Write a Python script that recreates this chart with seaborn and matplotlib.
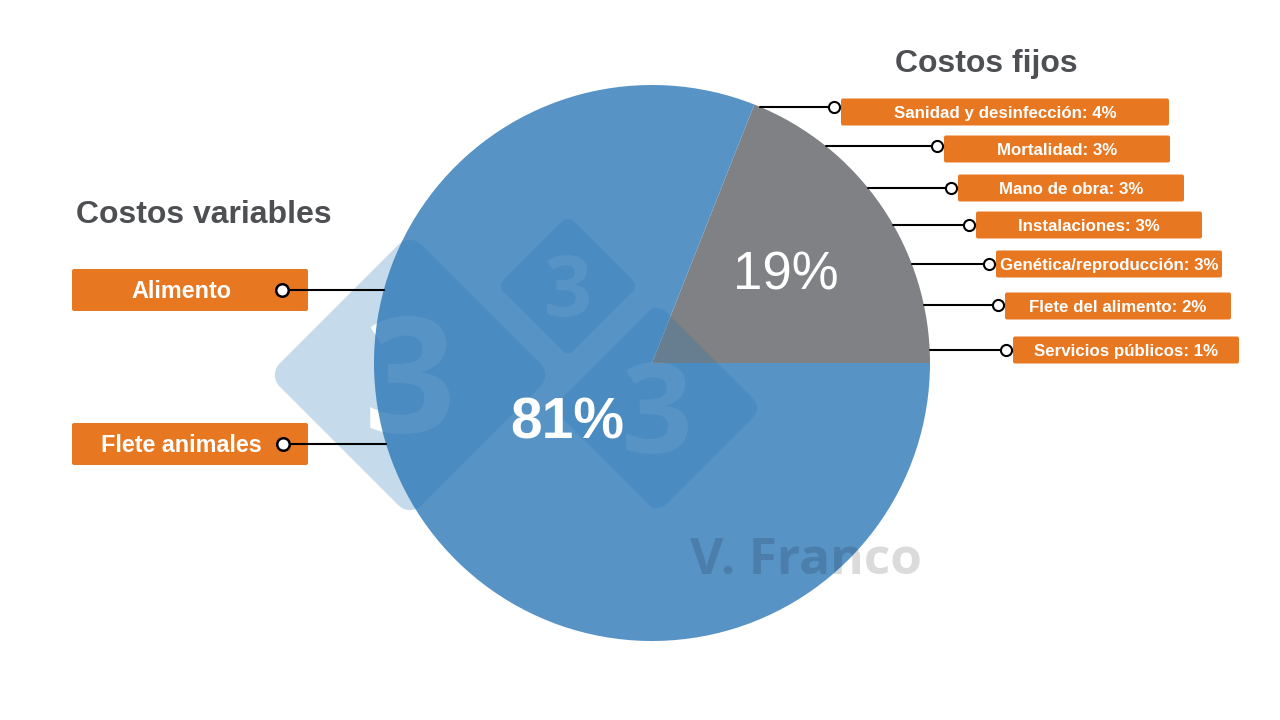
import numpy as np
import matplotlib
matplotlib.use("Agg")
import matplotlib.pyplot as plt
from matplotlib.patches import FancyBboxPatch, PathPatch
from matplotlib.path import Path
from matplotlib.textpath import TextPath
from matplotlib.font_manager import FontProperties
import seaborn as sns

# --- data ---
group_names = ["Costos fijos", "Costos variables"]
group_share = [19, 81]
fixed_items = ["Sanidad y desinfección", "Mortalidad", "Mano de obra", "Instalaciones",
               "Genética/reproducción", "Flete del alimento", "Servicios públicos"]
fixed_share = [4, 3, 3, 3, 3, 2, 1]
variable_items = ["Alimento", "Flete animales"]

# --- layout (pixels on the 1280x720 canvas, y pointing down) ---
CX, CY, R = 652, 363, 278
fixed_line_y = [107, 146, 188, 225, 264, 305, 350]
fixed_box_y = [112, 149, 188, 225, 264, 306, 350]
fixed_dot_x = [834, 937, 951, 969, 989, 998, 1006]
fixed_box_w = [328, 226, 226, 226, 226, 226, 226]
var_y = [290, 444]
var_dot_x = [282, 283]
pct_dist = [0.58, 0.37]

BLUE = "#5893c6"
GREY = "#808184"
ORANGE = "#e87722"
TITLE = "#4d4f53"

sns.set_theme(style="white")
plt.rcParams["font.family"] = ["Liberation Sans", "DejaVu Sans"]

fig = plt.figure(figsize=(12.8, 7.2), dpi=100)
ax = fig.add_axes([0, 0, 1, 1])

# grey (fixed) wedge starts at 3 o'clock and runs up, blue fills the rest
wedges, _ = ax.pie(group_share, colors=[GREY, BLUE], startangle=0,
                   counterclock=False, center=(CX, CY), radius=R,
                   wedgeprops=dict(linewidth=0))
ax.set_xlim(0, 1280)
ax.set_ylim(720, 0)
ax.set_aspect("equal")
ax.axis("off")


# watermark: rounded diamonds with a "3" cut out
def signed_area(p):
    return 0.5 * np.sum(p[:, 0] * np.roll(p[:, 1], -1) - np.roll(p[:, 0], -1) * p[:, 1])


def rounded_diamond(cx, cy, half_diag, corner):
    s = half_diag / np.sqrt(2) + corner * 0.3
    pts = []
    for k, (sx, sy) in enumerate([(1, 1), (-1, 1), (-1, -1), (1, -1)]):
        a0 = np.pi / 2 * k
        for a in np.linspace(a0, a0 + np.pi / 2, 10):
            pts.append((sx * (s - corner) + corner * np.cos(a),
                        sy * (s - corner) + corner * np.sin(a)))
    pts = np.array(pts)
    c, sn = np.cos(np.pi / 4), np.sin(np.pi / 4)
    rot = np.array([[c, -sn], [sn, c]])
    return pts @ rot.T + [cx, cy]


digit_font = FontProperties(family="Open Sans", weight="bold")


def digit_polys(cx, cy, height):
    tp = TextPath((0, 0), "3", size=100, prop=digit_font)
    polys = tp.to_polygons()
    allp = np.vstack(polys)
    (x0, y0), (x1, y1) = allp.min(0), allp.max(0)
    sc = height / (y1 - y0)
    return [np.column_stack([(p[:, 0] - (x0 + x1) / 2) * sc + cx,
                             -(p[:, 1] - (y0 + y1) / 2) * sc + cy]) for p in polys]


for dx, dy, hd, dh in [(410, 375, 135, 118), (568, 286, 67, 62), (657, 408, 100, 92)]:
    dia = rounded_diamond(dx, dy, hd, hd * 0.12)
    sign = np.sign(signed_area(dia))
    parts = [dia]
    for p in digit_polys(dx, dy, dh):
        if np.sign(signed_area(p)) == sign:
            p = p[::-1]
        parts.append(p)
    path = Path.make_compound_path(*[Path(np.vstack([p, p[:1]]), closed=True) for p in parts])
    ax.add_patch(PathPatch(path, facecolor="#2277b5", alpha=0.26, lw=0, zorder=2))

ax.text(806, 561, "V. Franco", color="black", alpha=0.14, fontsize=37, fontweight="bold",
        family="Open Sans", ha="center", va="center", zorder=3)

# percentage labels inside the wedges
for w, d, share, bold, size in zip(wedges, pct_dist, group_share, ["normal", "bold"], [38, 41]):
    mid = np.deg2rad((w.theta1 + w.theta2) / 2)
    ax.text(CX + d * R * np.cos(mid), CY + d * R * np.sin(mid) + 3, f"{share}%", color="white",
            fontsize=size, fontweight=bold, ha="center", va="center", zorder=5)

# group titles
ax.text(986, 64, group_names[0], color=TITLE, fontsize=23, fontweight="bold",
        ha="center", va="center")
ax.text(76, 215, group_names[1], color=TITLE, fontsize=23, fontweight="bold",
        ha="left", va="center")

# fixed cost call-outs
for name, share, ly, by, dx, bw in zip(fixed_items, fixed_share, fixed_line_y, fixed_box_y,
                                        fixed_dot_x, fixed_box_w):
    x_edge = CX + np.sqrt(R ** 2 - (ly - CY) ** 2)
    ax.plot([x_edge, dx], [ly, ly], color="black", lw=1.5, zorder=6)
    ax.add_patch(FancyBboxPatch((dx + 7, by - 13.5), bw, 27,
                                boxstyle="round,pad=0,rounding_size=2",
                                facecolor=ORANGE, edgecolor="none", zorder=6))
    ax.plot(dx, ly, "o", ms=8, mfc="white", mec="black", mew=1.5, zorder=7)
    ax.text(dx + 7 + bw / 2, by + 1.5, f"{name}: {share}%", color="white", fontsize=12.2,
            fontweight="bold", ha="center", va="center", zorder=7)

# variable cost call-outs
for name, vy, dx in zip(variable_items, var_y, var_dot_x):
    x_edge = CX - np.sqrt(R ** 2 - (vy - CY) ** 2)
    ax.add_patch(FancyBboxPatch((72, vy - 21), 236, 42,
                                boxstyle="round,pad=0,rounding_size=2",
                                facecolor=ORANGE, edgecolor="none", zorder=6))
    ax.plot([dx, x_edge], [vy, vy], color="black", lw=1.5, zorder=6)
    ax.plot(dx, vy, "o", ms=9, mfc="white", mec="black", mew=1.8, zorder=7)
    ax.text(181, vy + 2, name, color="white", fontsize=16.8, fontweight="bold",
            ha="center", va="center", zorder=7)

fig.savefig("out.png", dpi=100)
